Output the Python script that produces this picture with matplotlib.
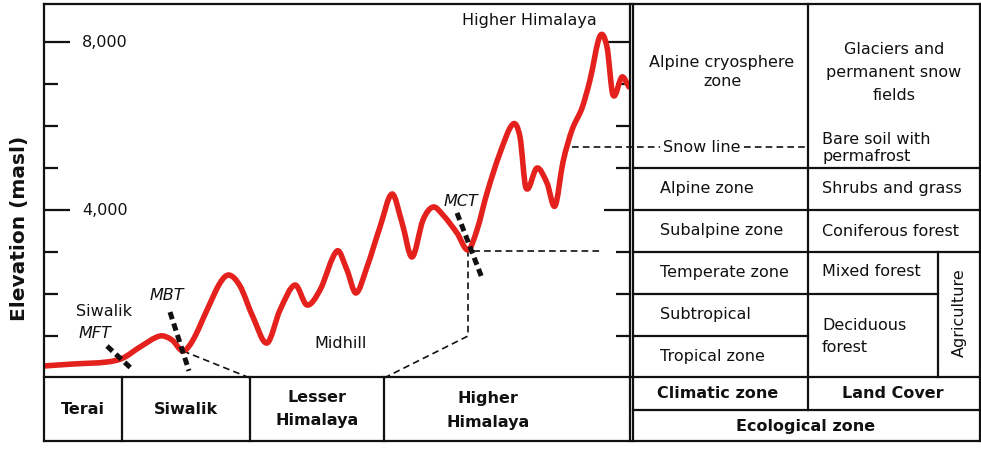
import numpy as np
import matplotlib.pyplot as plt
from matplotlib.path import Path
from matplotlib.patches import PathPatch

plt.rcParams['font.family'] = ['DejaVu Sans']

# elevation profile across the Himalaya (distance along transect, elevation in masl)
dist = [0, 29, 63, 79, 96, 116, 128, 139, 149, 163, 176, 185, 196, 209, 223,
        236, 251, 263, 276, 293, 303, 312, 323, 336, 348, 358, 368, 379, 389,
        399, 413, 424, 433, 443, 456, 469, 476, 482, 493, 503, 511, 519, 528,
        538, 546, 556, 563, 569, 578, 585]
elev = [286, 333, 381, 476, 738, 1000, 905, 643, 905, 1619, 2262, 2452, 2190,
        1452, 833, 1619, 2214, 1738, 2095, 3024, 2571, 2024, 2643, 3595, 4381,
        3700, 2881, 3762, 4071, 3881, 3452, 3048, 3524, 4405, 5357, 6048, 5738,
        4524, 5000, 4643, 4095, 5143, 5905, 6429, 7095, 8143, 7881, 6738, 7167,
        6929]

# thrust faults (start / end of thick dashed marks)
faults = {
    'MFT': ([63, 89], [760, 190]),
    'MBT': ([126, 145], [1570, 170]),
    'MCT': ([413, 438], [3930, 2380]),
}
# thin dashed guides
guide_siwalik = ([139, 206], [643, 0])
guide_higher = ([340, 424, 424, 558], [0, 1000, 3024, 3024])
snow_line = 5500
snow_x0 = 528

major_ticks = [4000, 8000]
minor_ticks = [1000, 2000, 3000, 5000, 6000, 7000]

RED = '#e4211d'
INK = '#111111'


def smooth_path(xs, ys):
    # cubic Hermite through the read points, tangents from neighbours
    x = np.asarray(xs, float)
    y = np.asarray(ys, float)
    n = len(x)
    m = np.zeros(n)
    m[1:-1] = (y[2:] - y[:-2]) / (x[2:] - x[:-2])
    m[0] = (y[1] - y[0]) / (x[1] - x[0])
    m[-1] = (y[-1] - y[-2]) / (x[-1] - x[-2])
    verts = [(x[0], y[0])]
    codes = [Path.MOVETO]
    for i in range(n - 1):
        h = x[i + 1] - x[i]
        verts += [(x[i] + h / 3, y[i] + m[i] * h / 3),
                  (x[i + 1] - h / 3, y[i + 1] - m[i + 1] * h / 3),
                  (x[i + 1], y[i + 1])]
        codes += [Path.CURVE4] * 3
    return Path(verts, codes)


W, H = 981, 451
fig = plt.figure(figsize=(W / 100, H / 100), dpi=100)

# profile axes (pixel box 44..630 x 4..378)
ax = fig.add_axes([44 / W, (H - 378) / H, (630 - 44) / W, (378 - 4) / H])
ax.set_xlim(0, 586)
ax.set_ylim(0, 8905)
ax.patch.set_visible(False)
for s in ax.spines.values():
    s.set_visible(False)
ax.set_xticks([])
ax.set_yticks(major_ticks)
ax.set_yticks(minor_ticks, minor=True)
ax.tick_params(which='both', direction='in', left=True, right=True,
               labelleft=False, width=1.6, color=INK)
ax.tick_params(which='major', length=19)
ax.tick_params(which='minor', length=10)
for t in major_ticks:
    ax.text(0.065, t, f'{t:,}', transform=ax.get_yaxis_transform(),
            ha='left', va='center', fontsize=11.5, color=INK)

ax.add_patch(PathPatch(smooth_path(dist, elev), fill=False, edgecolor=RED,
                       lw=4.0, capstyle='round', joinstyle='round', zorder=4))

for name, (fx, fy) in faults.items():
    ax.plot(fx, fy, color=INK, lw=3.6, dashes=(1.5, 0.9), solid_capstyle='butt',
            zorder=5, clip_on=False)

ax.plot(*guide_siwalik, color=INK, lw=1.2, dashes=(4, 2.5), clip_on=False)
ax.plot(*guide_higher, color=INK, lw=1.2, dashes=(4, 2.5), clip_on=False)
ax.plot([snow_x0, 616], [snow_line] * 2, color=INK, lw=1.2, dashes=(4, 2.5),
        clip_on=False)
ax.plot([700, 764], [snow_line] * 2, color=INK, lw=1.2, dashes=(4, 2.5),
        clip_on=False)

# overlay in pixel coordinates for the frame and tables
ov = fig.add_axes([0, 0, 1, 1])
ov.set_xlim(0, W)
ov.set_ylim(H, 0)
ov.axis('off')

lw = 1.6
hl = [(4, 44, 980), (441, 44, 980), (377, 44, 980),
      (168, 633, 980), (210, 633, 980), (252, 633, 980),
      (294, 633, 938), (336, 633, 808), (410, 633, 980)]
vl = [(44, 4, 441), (980, 4, 441), (630, 4, 441), (633, 4, 441),
      (122, 377, 441), (250, 377, 441), (384, 377, 441),
      (808, 4, 410), (938, 252, 377)]
for y, x0, x1 in hl:
    ov.plot([x0, x1], [y, y], color=INK, lw=lw, solid_capstyle='projecting')
for x, y0, y1 in vl:
    ov.plot([x, x], [y0, y1], color=INK, lw=lw, solid_capstyle='projecting')

ov.text(20, 228, 'Elevation (masl)', rotation=90, ha='center', va='center',
        fontsize=14.5, fontweight='bold', color=INK)

plain = [
    (529, 20, 'Higher Himalaya', 'center'),
    (104, 311, 'Siwalik', 'center'),
    (341, 343, 'Midhill', 'center'),
    (722, 63, 'Alpine cryosphere', 'center'),
    (722, 82, 'zone', 'center'),
    (894, 49, 'Glaciers and', 'center'),
    (894, 72, 'permanent snow', 'center'),
    (894, 95, 'fields', 'center'),
    (702, 148, 'Snow line', 'center'),
    (822, 139, 'Bare soil with', 'left'),
    (822, 156, 'permafrost', 'left'),
    (660, 189, 'Alpine zone', 'left'),
    (822, 189, 'Shrubs and grass', 'left'),
    (660, 231, 'Subalpine zone', 'left'),
    (822, 231, 'Coniferous forest', 'left'),
    (660, 272, 'Temperate zone', 'left'),
    (822, 272, 'Mixed forest', 'left'),
    (660, 315, 'Subtropical', 'left'),
    (822, 326, 'Deciduous', 'left'),
    (822, 348, 'forest', 'left'),
    (660, 357, 'Tropical zone', 'left'),
]
for x, y, s, ha in plain:
    ov.text(x, y, s, ha=ha, va='center', fontsize=11.5, color=INK)

ov.text(959, 313, 'Agriculture', rotation=90, ha='center', va='center',
        fontsize=11.5, color=INK)

italic = [(95, 333, 'MFT'), (167, 296, 'MBT'), (461, 201, 'MCT')]
for x, y, s in italic:
    ov.text(x, y, s, ha='center', va='center', fontsize=11.5, style='italic',
            color=INK)

bold = [
    (83, 409, 'Terai'), (186, 409, 'Siwalik'),
    (317, 398, 'Lesser'), (317, 421, 'Himalaya'),
    (488, 399, 'Higher'), (488, 422, 'Himalaya'),
    (718, 394, 'Climatic zone'), (893, 394, 'Land Cover'),
    (806, 426, 'Ecological zone'),
]
for x, y, s in bold:
    ov.text(x, y, s, ha='center', va='center', fontsize=11.5, fontweight='bold',
            color=INK)

fig.savefig('out.png', dpi=100)
